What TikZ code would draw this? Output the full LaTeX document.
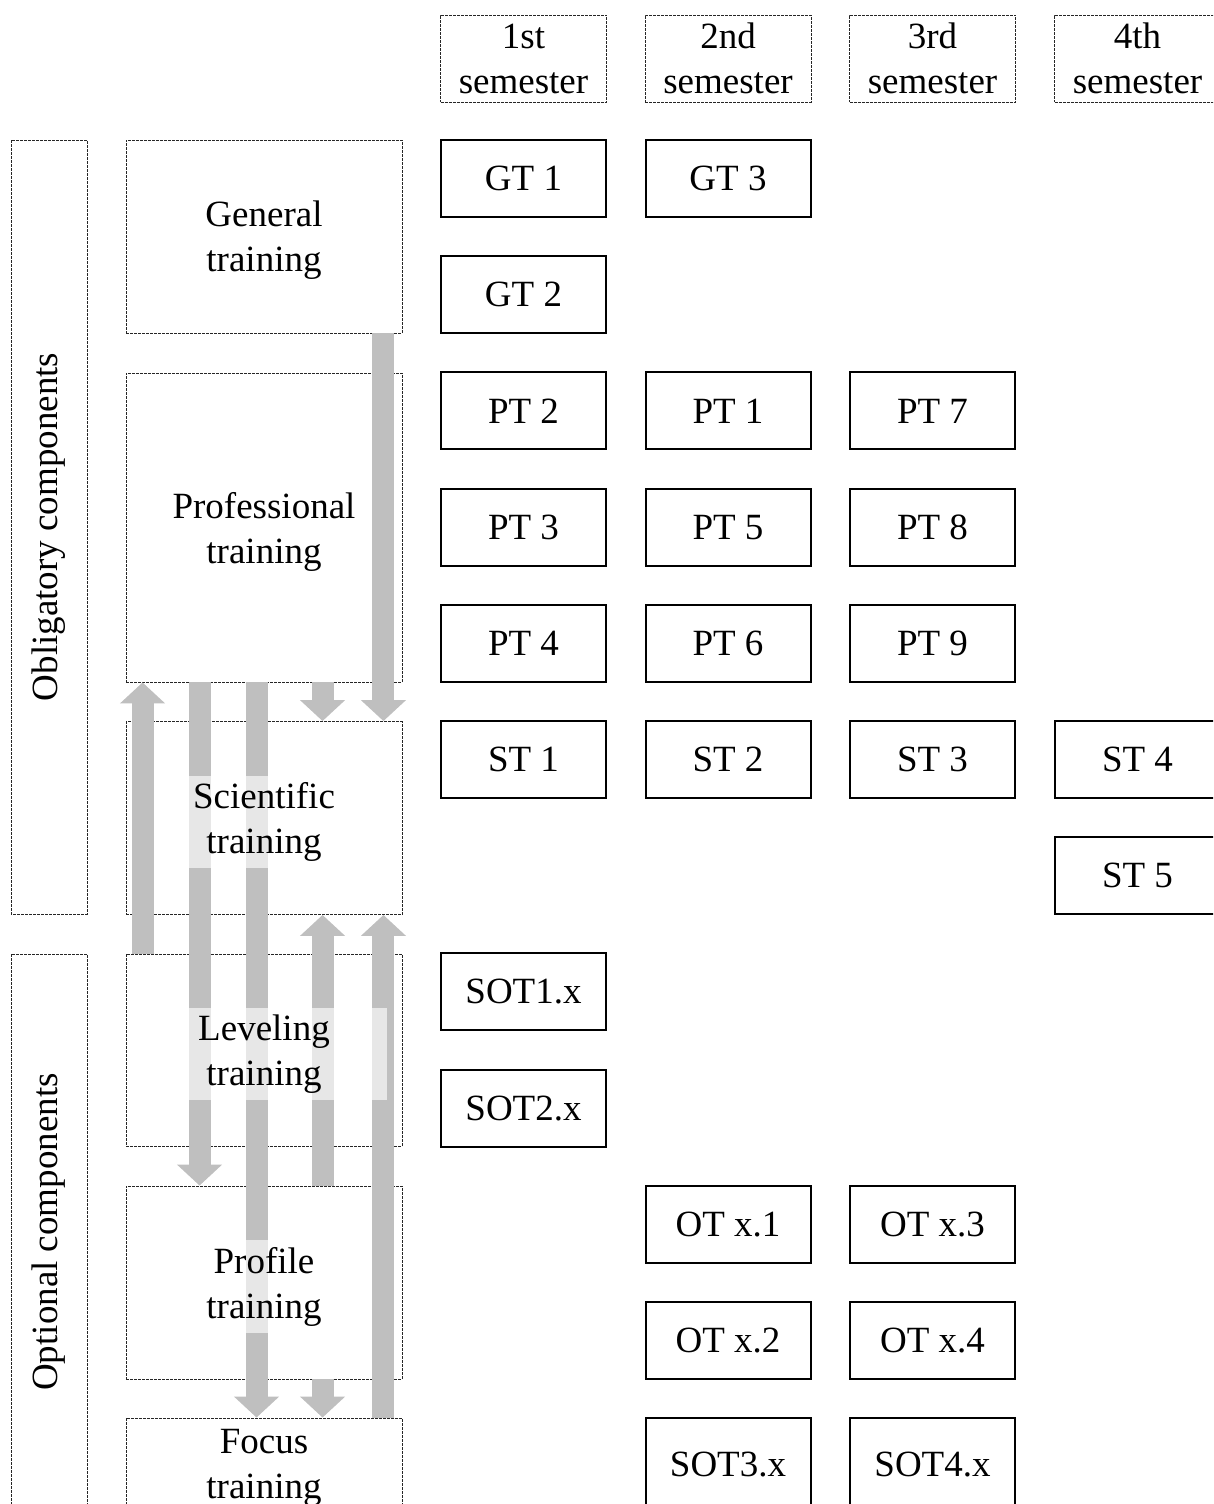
\documentclass[tikz,border=0pt]{standalone}
\usepackage{fontspec}
\setmainfont{Liberation Serif}
\usetikzlibrary{arrows.meta}
\definecolor{flowgray}{HTML}{BFBFBF}

\begin{document}
\begin{tikzpicture}[
        x=1pt, y=-1pt,
        font=\fontsize{37}{45}\selectfont,
        semester/.style={rectangle, draw=black!85, dash pattern=on 3pt off 1pt, line width=0.9pt, minimum width=166, minimum height=87, align=center, inner sep=0pt},
        group/.style={rectangle, draw=black!85, dash pattern=on 3pt off 1pt, line width=0.9pt, minimum width=276},
        sidebox/.style={rectangle, draw=black!85, dash pattern=on 3pt off 1pt, line width=0.9pt, minimum height=76, rotate=90},
        module/.style={rectangle, draw, line width=2pt, minimum width=165, minimum height=77, align=center},
        grouptext/.style={rectangle, fill=white, fill opacity=0.64, text opacity=1, inner sep=6.5pt, yshift=-4pt, align=center},
        flow/.style={-{Triangle[width=44pt, length=21pt]}, line width=22pt, draw=flowgray}
    ]
        \useasboundingbox (0,0) rectangle (1213,1504);
        \clip (0,0) rectangle (1213,1504);

        % Semesters
        \node[semester] (sem1) at (523.5, 58.5) {1st\\semester};
        \node[semester] (sem2) at (728, 58.5) {2nd\\semester};
        \node[semester] (sem3) at (932.5, 58.5) {3rd\\semester};
        \node[semester] (sem4) at (1137.5, 58.5) {4th\\semester};

        % Components
        \node[sidebox, minimum width=774] (obligatory) at (49, 527) {Obligatory components};
        \node[sidebox, minimum width=556] (optional) at (49, 1232) {Optional components};

        % Training groups
        \node[group, minimum height=193] (general) at (264, 236.5) {};
        \node[group, minimum height=309] (professional) at (264, 527.5) {};
        \node[group, minimum height=193] (scientific) at (264, 818) {};
        \node[group, minimum height=192] (leveling) at (264, 1050) {};
        \node[group, minimum height=193] (profile) at (264, 1282.5) {};
        \node[group, minimum height=92] (focus) at (264, 1464) {};

        % General training
        \node[module] (gt1) at (523.5, 178.5) {GT 1};
        \node[module] (gt3) at (728, 178.5) {GT 3};
        \node[module] (gt2) at (523.5, 294.7) {GT 2};

        % Professional training
        \node[module] (pt2) at (523.5, 410.9) {PT 2};
        \node[module] (pt1) at (728, 410.9) {PT 1};
        \node[module] (pt7) at (932.5, 410.9) {PT 7};
        \node[module] (pt3) at (523.5, 527.1) {PT 3};
        \node[module] (pt5) at (728, 527.1) {PT 5};
        \node[module] (pt8) at (932.5, 527.1) {PT 8};
        \node[module] (pt4) at (523.5, 643.3) {PT 4};
        \node[module] (pt6) at (728, 643.3) {PT 6};
        \node[module] (pt9) at (932.5, 643.3) {PT 9};

        % Scientific training
        \node[module] (st1) at (523.5, 759.5) {ST 1};
        \node[module] (st2) at (728, 759.5) {ST 2};
        \node[module] (st3) at (932.5, 759.5) {ST 3};
        \node[module] (st4) at (1137.5, 759.5) {ST 4};
        \node[module] (st5) at (1137.5, 875.7) {ST 5};

        % Leveling training
        \node[module] (sot1) at (523.5, 991.9) {SOT1.x};
        \node[module] (sot2) at (523.5, 1108.1) {SOT2.x};

        % Profile training
        \node[module] (otx1) at (728, 1224.3) {OT x.1};
        \node[module] (otx3) at (932.5, 1224.3) {OT x.3};
        \node[module] (otx2) at (728, 1340.5) {OT x.2};
        \node[module] (otx4) at (932.5, 1340.5) {OT x.4};

        % Focus training
        \node[module, minimum height=92] (sot3) at (728, 1464) {SOT3.x};
        \node[module, minimum height=92] (sot4) at (932.5, 1464) {SOT4.x};

        % Flows between groups
        \draw[flow] ([xshift=17]leveling.north west) -- ([xshift=17]professional.south west);
        \draw[flow] ([xshift=74]professional.south west) -- ([xshift=74]profile.north west);
        \draw[flow] ([xshift=131]professional.south west) -- ([xshift=131]focus.north west);
        \draw[flow] ([xshift=197]professional.south west) -- ([xshift=197]scientific.north west);
        \draw[flow] ([xshift=-19]general.south east) -- ([xshift=-19]scientific.north east);
        \draw[flow] ([xshift=197]profile.north west) -- ([xshift=197]scientific.south west);
        \draw[flow] ([xshift=-19]focus.north east) -- ([xshift=-19]scientific.south east);
        \draw[flow] ([xshift=197]profile.south west) -- ([xshift=197]focus.north west);

        % Group labels
        \node[grouptext] (generaltxt) at (general) {General\\training};
        \node[grouptext] (professionaltxt) at (professional) {Professional\\training};
        \node[grouptext] (scientifictxt) at (scientific) {Scientific\\training};
        \node[grouptext, minimum width=246] (levelingtxt) at (leveling) {Leveling\\training};
        \node[grouptext] (profiletxt) at (profile) {Profile\\training};
        \node[grouptext] (focustxt) at (focus) {Focus\\training};
    \end{tikzpicture}
\end{document}
